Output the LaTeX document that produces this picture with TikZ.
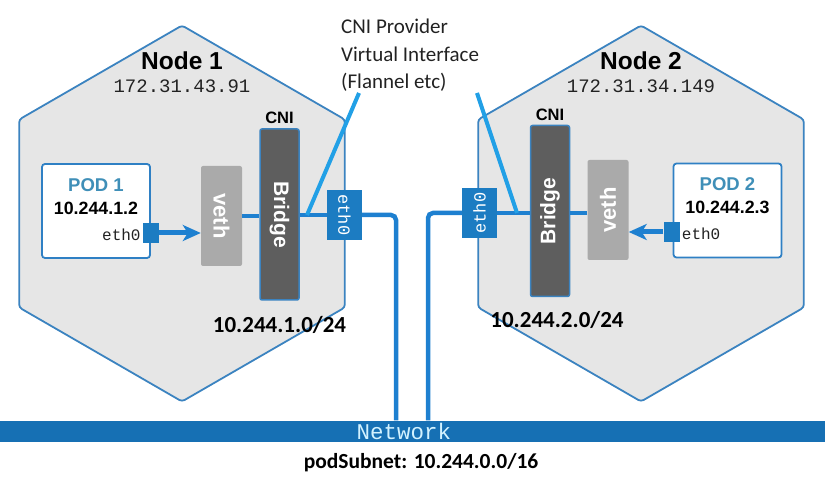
\documentclass[tikz,border=0pt]{standalone}
\usepackage{fontspec}
\setmainfont{Liberation Sans}
\setmonofont{Liberation Mono}
\newfontfamily\calfont{Carlito}
\usepackage{xcolor}
\usepackage{graphicx}
\usepackage{tikz}
\usetikzlibrary{positioning,arrows.meta,shapes.geometric}
\definecolor{hexfill}{HTML}{E6E6E6}
\definecolor{hexline}{HTML}{3B83C0}
\definecolor{bridgegray}{HTML}{5E5E5E}
\definecolor{vethgray}{HTML}{AAAAAA}
\definecolor{ethblue}{HTML}{1C7CC2}
\definecolor{linkblue}{HTML}{1E80D0}
\definecolor{noteblue}{HTML}{22A0E6}
\definecolor{podline}{HTML}{2F80C4}
\definecolor{podtitle}{HTML}{3F8FB8}
\definecolor{netblue}{HTML}{1670B4}
\definecolor{nettext}{HTML}{D2F2FF}
\definecolor{darktext}{HTML}{222222}
\tikzset{
  hexnode/.style={regular polygon, regular polygon sides=6, shape border rotate=30,
                  minimum size=376pt, inner sep=0pt, outer sep=0pt,
                  draw=hexline, fill=hexfill, line width=1.8pt, rounded corners=3pt},
  bridgebox/.style={rectangle, draw=hexline, fill=bridgegray, line width=1.5pt, rounded corners=2pt,
                    minimum width=39pt, minimum height=171pt, inner sep=0pt,
                    text=white, font=\fontsize{21}{24}\selectfont\bfseries},
  vethbox/.style={rectangle, fill=vethgray, rounded corners=2pt, minimum width=41pt,
                  minimum height=100pt, inner sep=0pt, text=white,
                  font=\fontsize{22}{24}\selectfont\bfseries},
  ethbox/.style={rectangle, fill=ethblue, minimum width=35pt, minimum height=50pt,
                 inner sep=0pt, text=white, font=\fontsize{17}{20}\selectfont\ttfamily},
  podbox/.style={rectangle, draw=podline, fill=white, line width=1.8pt, rounded corners=3pt,
                 minimum width=108pt, minimum height=94pt, inner sep=0pt},
  portbox/.style={rectangle, fill=ethblue, minimum width=16pt, minimum height=20pt, inner sep=0pt},
  link/.style={draw=linkblue, line width=4.5pt, rounded corners=5pt},
  podarrow/.style={-{Stealth[length=18pt,width=16pt,inset=5pt]}, draw=linkblue, line width=5pt},
  noteline/.style={draw=noteblue, line width=4pt},
  netbar/.style={rectangle, fill=netblue, minimum width=860pt, minimum height=21pt,
                 inner sep=0pt, text=nettext, font=\fontsize{22.5}{22}\selectfont\ttfamily},
  nodetitle/.style={inner sep=0pt, text=black, font=\fontsize{24.5}{27}\selectfont\bfseries},
  iptext/.style={inner sep=0pt, text=darktext, font=\fontsize{19}{22}\selectfont\ttfamily},
  cnitext/.style={inner sep=0pt, text=black, font=\fontsize{16.5}{20}\selectfont\bfseries},
  podname/.style={inner sep=0pt, text=podtitle, font=\fontsize{18.5}{20}\selectfont\bfseries},
  podip/.style={inner sep=0pt, text=black, font=\fontsize{17.8}{20}\selectfont\bfseries},
  porttext/.style={inner sep=0pt, text=darktext, font=\fontsize{16}{18}\selectfont\ttfamily},
  subnet/.style={inner sep=0pt, text=black, font=\fontsize{23}{24}\selectfont\calfont\bfseries},
  notetext/.style={inner sep=0pt, align=left, text=darktext, font=\fontsize{21}{27.5}\selectfont\calfont},
}
\begin{document}
\begin{tikzpicture}[x=1pt,y=-1pt]
\useasboundingbox (0,0) rectangle (825,478);

%Hosts
\node[hexnode] (node1) at (182,213.5) {};
\node[hexnode] (node2) at (641,213.5) {};
\node[nodetitle] (titleA) at ([yshift=-35pt]node1.north) {Node 1};
\node[iptext] (hostA) [below=10pt of titleA] {172.31.43.91};
\node[nodetitle] (titleB) at ([yshift=-35pt]node2.north) {Node 2};
\node[iptext] (hostB) [below=10pt of titleB] {172.31.34.149};

%Node 1 parts
\node[bridgebox] (bridgeA) at (279.5,214.5) {\rotatebox{-90}{Bridge}};
\node[cnitext] (cniA) [above=4pt of bridgeA] {CNI};
\node[vethbox] (vethA) at (221.5,216) {\rotatebox{-90}{veth}};
\node[ethbox] (ethA) at (344.5,215) {\rotatebox{-90}{eth0}};
\node[podbox] (podA) at (96,211) {};
\node[podname] (podAname) [below=15pt of podA.north] {POD 1};
\node[podip] (podAip) [below=10pt of podAname] {10.244.1.2};
\node[portbox] (portA) at (151,233) {};
\node[porttext] (portAname) [left=2pt of portA.west, yshift=-2pt] {eth0};
\node[subnet] (subnetA) [below=15pt of bridgeA] {10.244.1.0/24};

%Node 2 parts
\node[bridgebox] (bridgeB) at (550,211) {\rotatebox{90}{Bridge}};
\node[cnitext] (cniB) [above=4pt of bridgeB] {CNI};
\node[vethbox] (vethB) at (608,210) {\rotatebox{90}{veth}};
\node[ethbox] (ethB) at (479.5,213) {\rotatebox{90}{eth0}};
\node[podbox] (podB) at (727.5,210.5) {};
\node[podname] (podBname) [below=15pt of podB.north] {POD 2};
\node[podip] (podBip) [below=10pt of podBname] {10.244.2.3};
\node[portbox] (portB) at (671.5,232) {};
\node[porttext] (portBname) [right=2pt of portB.east, yshift=-2pt] {eth0};
\node[subnet] (subnetB) [below=14pt of bridgeB, xshift=7pt] {10.244.2.0/24};

%Network
\node[netbar] (network) at (404,431) {Network};
\node[subnet, font=\fontsize{21.5}{24}\selectfont\calfont\bfseries] (podsubnet)
     [below=12pt of network, xshift=17pt] {podSubnet: 10.244.0.0/16};

%Provider note
\node[notetext, anchor=north west] (provider) at (341,19) {CNI Provider\\Virtual Interface\\(Flannel etc)};
\coordinate (noteA) at (359,93);
\coordinate (tapA) at (307,215);
\coordinate (noteB) at (477,93);
\coordinate (tapB) at (517,213);

%Lines
\draw[podarrow] (portA.east) -- (portA.east -| vethA.west);
\draw[podarrow] (portB.west) -- (portB.west -| vethB.east);
\draw[link] (vethA.east) -- (bridgeA.west |- vethA.east);
\draw[link] (bridgeA.east |- ethA.west) -- (ethA.west);
\draw[link] (ethA.east) -| ([xshift=-8pt]network.north);
\draw[link] (vethB.west |- ethB.east) -- (bridgeB.east |- ethB.east);
\draw[link] (bridgeB.west |- ethB.east) -- (ethB.east);
\draw[link] (ethB.west) -| ([xshift=24pt]network.north);
\draw[noteline] (noteA) -- (tapA);
\draw[noteline] (noteB) -- (tapB);
\end{tikzpicture}
\end{document}
